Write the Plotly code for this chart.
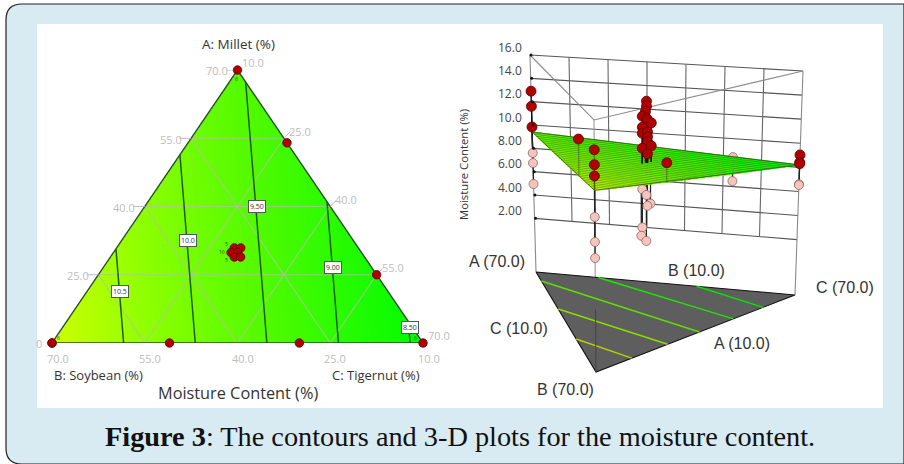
import numpy as np
import plotly.graph_objects as go

W, H = 904, 464
# ---------- data ----------
ticks = [10, 25, 40, 55, 70]
tick_labels = ["10.0", "25.0", "40.0", "55.0", "70.0"]
z_vertex = [9.55, 11.0, 8.41]          # A, B, C response in contour panel
z_vertex_3d = [9.4, 10.8, 8.2]
contour_levels = [10.5, 10.0, 9.5, 9.0, 8.5]
contour_texts = ["10.5", "10.0", "9.50", "9.00", "8.50"]

design_A = [70, 54, 25, 10, 10, 10, 10, 10]
design_C = [10, 26, 55, 70, 50, 29, 10, 10]
center_A = [30.9, 30.9, 29.9, 29.9, 28.9, 28.9]
center_C = [29.03, 30.07, 29.0, 30.08, 30.03, 31.05]

# 3-D: above-surface points
red_A = [70, 70, 70, 10, 10, 10, 10, 10, 10, 25, 10] + [30] * 15
red_C = [10, 10, 10, 10, 10, 10, 70, 70, 70, 10, 31] + [31.2, 31.2, 30.9, 30, 31.2, 31.5, 32.6, 30, 30, 31.5, 31.5, 31.5, 30, 32.6, 31.5]
red_Z = [12.9, 11.6, 9.83, 13.8, 12.7, 11.87, 9.03, 8.4, 8.3, 13.3, 11.4] + [14.37, 13.97, 13.57, 13.24, 13.0, 12.84, 12.52, 12.36, 11.87, 11.87, 11.47, 11.07, 10.66, 10.66, 10.1]
# 3-D: below-surface points
pink_A = [70, 70, 70, 10, 10, 10, 10, 10, 25, 25] + [30] * 7
pink_C = [10, 10, 10, 10, 10, 10, 70, 70, 55, 55] + [30, 31.2, 32.4, 31.5, 30, 29.7, 31.2]
pink_Z = [7.6, 6.74, 4.94, 8.84, 7.0, 5.81, 6.6, 6.53, 8.46, 6.45] + [7.36, 6.8, 6.0, 5.9, 4.3, 3.65, 3.09]

z_ticks = [16, 14, 12, 10, 8, 6, 4, 2]
z_tick_labels = ["16.0", "14.0", "12.0", "10.0", "8.00", "6.00", "4.00", "2.00"]
# floor contours: end points (A, C)
floor_A0 = [29.8, 47.8, 64.6, 55.6, 32.8]
floor_C0 = [10, 10, 10, 24.4, 47.2]
floor_C1 = [20.8, 31.6, 41.2, 51.4, 60.4]
floor_colors = ["#b4d200", "#8fdc00", "#5de000", "#1ee600", "#00e600"]

# ---------- styles ----------
BG = "#d8ebf2"
GRID = "rgba(175,195,160,0.75)"
TICKC = "#bdbdbd"
SANS = "Open Sans"
ARIAL = "Liberation Sans"
RED = "#b00000"
PINK = "#f7c3bd"
Z_TOP, Z_FLOOR = 16.0, -2.6
TOP = np.array([[530, 55], [594, 120], [803, 71]], float)
BOT = np.array([[536, 272], [596, 372], [795, 295]], float)

def tern(A, C):
    A, C = np.asarray(A, float), np.asarray(C, float)
    return (C - 10) + (A - 10) / 2, A

def proj(A, C, z):
    A, C, z = map(lambda v: np.asarray(v, float), (A, C, z))
    B = 90 - A - C
    w = np.stack([(A - 10) / 60, (B - 10) / 60, (C - 10) / 60], -1)
    t = (Z_TOP - z) / (Z_TOP - Z_FLOOR)
    x = (w * (TOP[:, 0] + (BOT[:, 0] - TOP[:, 0]) * t[..., None])).sum(-1)
    y = (w * (TOP[:, 1] + (BOT[:, 1] - TOP[:, 1]) * t[..., None])).sum(-1)
    return x, y

def plane(A, C, zv):
    B = 90 - np.asarray(A, float) - np.asarray(C, float)
    return ((np.asarray(A) - 10) * zv[0] + (B - 10) * zv[1] + (np.asarray(C) - 10) * zv[2]) / 60

stops = [(8.41, (0, 252, 0)), (9.55, (85, 250, 0)), (10.3, (140, 255, 0)), (11.0, (205, 255, 0))]
def zcolor(z):
    zs = [s[0] for s in stops]
    return tuple(int(np.interp(z, zs, [s[1][i] for s in stops])) for i in range(3))

fig = go.Figure()
def line(xs, ys, color, width=1, ax="", **kw):
    fig.add_trace(go.Scatter(x=[None if v is None else float(v) for v in xs],
                             y=[None if v is None else float(v) for v in ys],
                             mode="lines", line=dict(color=color, width=width),
                             xaxis="x" + ax, yaxis="y" + ax, hoverinfo="skip", showlegend=False, **kw))
def markers(xs, ys, color, edge, size, ax=""):
    fig.add_trace(go.Scatter(x=xs, y=ys, mode="markers", marker=dict(color=color, size=size, line=dict(color=edge, width=0.8)),
                             xaxis="x" + ax, yaxis="y" + ax, hoverinfo="skip", showlegend=False, cliponaxis=False))

# ---------- left panel ----------
gx = np.linspace(0, 60, 372)
gy = np.linspace(10, 70, 274)
XX, YY = np.meshgrid(gx, gy)
CC = 10 + XX - (YY - 10) / 2
BB = 90 - YY - CC
ZZ = plane(YY, CC, z_vertex)
ZZ[(CC < 10) | (BB < 10)] = np.nan
cs = [[(s[0] - 8.41) / (11.0 - 8.41), "rgb(%d,%d,%d)" % s[1]] for s in stops]
fig.add_trace(go.Heatmap(x=gx, y=gy, z=np.round(ZZ, 2), colorscale=cs, zmin=8.41, zmax=11.0, showscale=False, hoverinfo="skip"))

for t in ticks[1:-1]:
    for (a0, c0, a1, c1) in [(t, 10, t, 80 - t), (10, t, 80 - t, t), (80 - t, 10, 10, 80 - t)]:
        x, y = tern([a0, a1], [c0, c1])
        line(list(x), list(y), GRID, 1.2)

# contour lines from the plane
def edge_hits(level):
    pts = []
    corners = [(70, 10), (10, 10), (10, 70)]
    for i in range(3):
        for j in range(i + 1, 3):
            zi = plane(corners[i][0], corners[i][1], z_vertex)
            zj = plane(corners[j][0], corners[j][1], z_vertex)
            if (zi - level) * (zj - level) < 0:
                f = (level - zi) / (zj - zi)
                pts.append((corners[i][0] + f * (corners[j][0] - corners[i][0]),
                            corners[i][1] + f * (corners[j][1] - corners[i][1])))
    return pts
for lv in contour_levels:
    p = edge_hits(lv)
    x, y = tern([q[0] for q in p], [q[1] for q in p])
    line(list(x), list(y), "#1f5a16", 1.5)

x, y = tern([70, 10, 10, 70], [10, 10, 70, 10])
line(list(x), list(y), "#24501c", 1.4, cliponaxis=False)
# tick marks
for v in ticks:
    x, y = tern(v, 10); line([x - 1.9, x], [y, y], TICKC, 1, cliponaxis=False)
    x, y = tern(80 - v, v); line([x, x + 1.0], [y, y + 1.4], TICKC, 1, cliponaxis=False)
    x, y = tern(10, 80 - v); line([x, x + 1.0], [y, y - 1.5], TICKC, 1, cliponaxis=False)

x, y = tern(design_A, design_C)
markers(list(x), list(y), RED, "#5a0000", 8.5)
x, y = tern(center_A, center_C)
markers(list(x), list(y), RED, "#5a0000", 8.5)

# ---------- right panel ----------
for lab_z in z_ticks:
    x, y = proj([70, 10], [10, 70], [lab_z, lab_z])
    line(list(x), list(y), "#555555", 1.1, ax="2")
for k in range(8):
    c = 10 + 60 * k / 7
    a = 70 - 60 * k / 7
    zend = Z_FLOOR if k in (0, 7) else 2
    x, y = proj([a, a], [c, c], [16, zend])
    line(list(x), list(y), "#666666" if k not in (0, 7) else "#8a8a8a", 1.1, ax="2")
x, y = proj([70, 10, 10], [10, 10, 70], [16, 16, 16])
line(list(x), list(y), "#8c8c8c", 1.1, ax="2")
x, y = proj([10, 10], [10, 10], [16, Z_FLOOR])
line(list(x), list(y), "#9a9a9a", 1.1, ax="2")

# floor
x, y = proj([70, 10, 10, 70], [10, 10, 70, 10], [Z_FLOOR] * 4)
fig.add_trace(go.Scatter(x=x, y=y, mode="lines", fill="toself", fillcolor="#5e5e5e", line=dict(color="#111111", width=1.1),
                         xaxis="x2", yaxis="y2", hoverinfo="skip", showlegend=False))
for a0, c0, c1, col in zip(floor_A0, floor_C0, floor_C1, floor_colors):
    x, y = proj([a0, 10], [c0, c1], [Z_FLOOR] * 2)
    line(list(x), list(y), col, 1.4, ax="2")
x, y = proj([10, 10], [10, 10], [2, Z_FLOOR])
line(list(x), list(y), "#444444", 1, ax="2")

# stems below surface and pink points
for a, c, z in zip(pink_A, pink_C, pink_Z):
    x, y = proj([a, a], [c, c], [z, float(plane(a, c, z_vertex_3d))])
    line(list(x), list(y), "#222222", 1.3, ax="2")
x, y = proj(pink_A, pink_C, pink_Z)
markers(list(x), list(y), PINK, "#8a6a66", 9, ax="2")

# surface: triangles binned by colour
N = 30
bins = {}
def zbin(z):
    return int(np.clip((z - 8.2) / (10.8 - 8.2) * 23.99, 0, 23))
for i in range(N):
    for j in range(N - i):
        tris = [[(i, j), (i + 1, j), (i, j + 1)]]
        if i + j < N - 1:
            tris.append([(i + 1, j), (i + 1, j + 1), (i, j + 1)])
        for tri in tris:
            As = [10 + 60 * q[0] / N for q in tri]
            Cs = [10 + 60 * q[1] / N for q in tri]
            zs = plane(As, Cs, z_vertex_3d)
            px, py = proj(As, Cs, zs)
            b = bins.setdefault(zbin(np.mean(zs)), ([], []))
            b[0].extend(list(px) + [px[0], None]); b[1].extend(list(py) + [py[0], None])
for k, (bx, by) in sorted(bins.items()):
    zc = 8.41 + (k + .5) / 24 * (11.0 - 8.41)
    col = "rgb(%d,%d,%d)" % zcolor(zc)
    fig.add_trace(go.Scatter(x=bx, y=by, mode="lines", fill="toself", fillcolor=col, line=dict(color=col, width=0.4),
                             xaxis="x2", yaxis="y2", hoverinfo="skip", showlegend=False))
mx, my = [], []
M = 28
for k in range(M + 1):
    b = 10 + 60 * k / M
    a_end = 80 - b
    A_l = np.array([a_end, 10.0]); C_l = 90 - b - A_l
    px, py = proj(A_l, C_l, plane(A_l, C_l, z_vertex_3d))
    mx += list(px) + [None]; my += list(py) + [None]
line(mx, my, "rgba(30,60,10,0.6)", 0.6, ax="2")
mx, my = [], []
for k in range(M + 1):
    a = 10 + 60 * k / M
    A_l = np.array([a, a]); C_l = np.array([10.0, 80 - a])
    px, py = proj(A_l, C_l, plane(A_l, C_l, z_vertex_3d))
    mx += list(px) + [None]; my += list(py) + [None]
line(mx, my, "rgba(30,60,10,0.2)", 0.5, ax="2")
x, y = proj([70, 10, 10, 70], [10, 10, 70, 10], list(plane([70, 10, 10, 70], [10, 10, 70, 10], z_vertex_3d)))
line(list(x), list(y), "rgba(40,70,10,0.8)", 0.8, ax="2")

# stems above the surface only at the vertex A and centre replicates
for a, c, z in zip(red_A, red_C, red_Z):
    col = "#111111" if a in (70, 30) else "rgba(60,60,60,0.45)"
    x, y = proj([a, a], [c, c], [z, float(plane(a, c, z_vertex_3d))])
    line(list(x), list(y), col, 1.3, ax="2")
x, y = proj(red_A, red_C, red_Z)
markers(list(x), list(y), RED, "#5a0000", 10, ax="2")

# ---------- text ----------
ann = []
def txt(px, py, s, size, color, font=SANS, **kw):
    ann.append(dict(x=px, y=py, xref="x2", yref="y2", text=s, showarrow=False,
                    font=dict(family=font, size=size, color=color), **kw))
txt(238, 44, "A: Millet (%)", 13.5, "#333333")
txt(98, 375, "B: Soybean (%)", 13, "#333333")
txt(376, 375, "C: Tigernut (%)", 13, "#333333")
txt(238, 393, "Moisture Content (%)", 16.3, "#333333")
for t, lab, px, py in zip(ticks[::-1], tick_labels[::-1], [217, 171, 124, 78], [70, 139, 207, 275]):
    txt(px, py, lab, 11, TICKC)
txt(39, 343, "0", 11, TICKC)
for lab, px, py in zip(tick_labels, [253, 300, 346, 393, 439], [62, 131, 199, 267, 335]):
    txt(px, py, lab, 11, TICKC)
for lab, px in zip(tick_labels[::-1], [58, 150, 243, 335, 429]):
    txt(px, 358, lab, 11, TICKC)
for lab, px, py in zip(contour_texts, [120, 188, 257, 333, 410], [291, 240, 206, 267, 327]):
    txt(px, py, lab, 7, "#333333", bgcolor="#ffffff", bordercolor="#555555", borderwidth=1, borderpad=1)
for px, py, s in [(236, 79, "6"), (58, 338, "6"), (415, 338, "6"), (226, 244, "5"), (222, 252, "10"), (226, 260, "5")]:
    txt(px, py, s, 5, "#1c5a14")

for lab, zv in zip(z_tick_labels, z_ticks):
    x, y = proj([70], [10], [zv])
    txt(524, float(y[0]) - 8, lab, 12, "#444444", xanchor="right")
x, y = proj([70] * len(z_ticks), [10] * len(z_ticks), z_ticks)
fig.add_trace(go.Scatter(x=x + 1, y=y, mode="markers", marker=dict(color="#111111", size=3), xaxis="x2", yaxis="y2",
                         hoverinfo="skip", showlegend=False))
txt(463, 165, "Moisture Content (%)", 11.3, "#333333", textangle=-90)
for s, px, py in [("A (70.0)", 497, 261), ("B (10.0)", 696, 270), ("C (70.0)", 845, 287), ("C (10.0)", 519, 328),
                  ("A (10.0)", 742, 343), ("B (70.0)", 565, 389)]:
    txt(px, py, s, 16, "#333333", font=ARIAL)
txt(460, 436, "<b>Figure 3</b>: The contours and 3-D plots for the moisture content.", 28.3, "#111111", font="Liberation Serif")

px_ = lambda v: v / W
py_ = lambda v: 1 - v / H
frame = "M %f %f L %f %f Q %f %f %f %f L %f %f Q %f %f %f %f L %f %f Z" % (
    px_(904), py_(4), px_(22), py_(4), px_(6), py_(4), px_(6), py_(20), px_(6), py_(448),
    px_(6), py_(464), px_(22), py_(464), px_(904), py_(464))
shapes = [
    dict(type="path", path=frame, xref="paper", yref="paper", fillcolor=BG, line=dict(color="#222222", width=1.2), layer="below"),
    dict(type="rect", x0=37 / W, x1=883 / W, y0=py_(24), y1=py_(408), xref="paper", yref="paper",
         fillcolor="#ffffff", line=dict(width=0), layer="below"),
]
hidden = dict(visible=False, fixedrange=True)
fig.update_layout(
    width=W, height=H, margin=dict(l=0, r=0, t=0, b=0), paper_bgcolor="#ffffff", plot_bgcolor="rgba(0,0,0,0)",
    showlegend=False, shapes=shapes, annotations=ann,
    xaxis=dict(domain=[52 / W, 423 / W], range=[0, 60], **hidden),
    yaxis=dict(domain=[(H - 343) / H, (H - 70) / H], range=[10, 70], **hidden),
    xaxis2=dict(domain=[0, 1], range=[0, W], anchor="y2", **hidden),
    yaxis2=dict(domain=[0, 1], range=[H, 0], anchor="x2", **hidden),
)
fig.write_html("out.html", post_script="document.body.style.margin='0';", config=dict(displayModeBar=False))
